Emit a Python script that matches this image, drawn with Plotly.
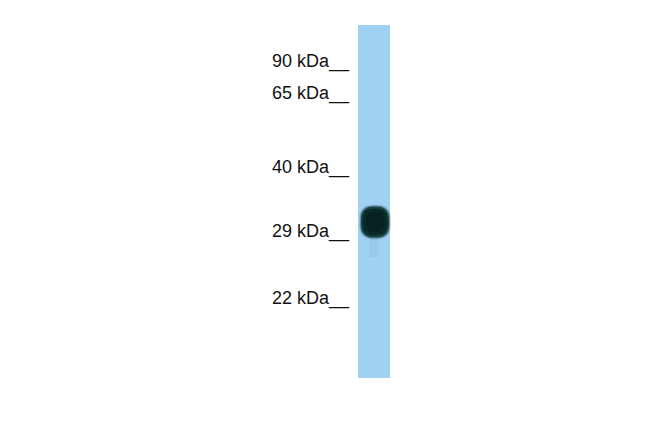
import plotly.graph_objects as go

# Data read from the blot
marker_kda = [90, 65, 40, 29, 22]
marker_migration = [61, 93, 167, 231, 298]   # migration distance of each marker
marker_labels = [f"{k} kDa__" for k in marker_kda]

lane_names = ["Lane 1"]
lane_start = [25]
lane_end = [378]
band_migration = [222]     # observed band (~30 kDa)
band_height = [30]

W, H = 650, 433
OFF = 8  # page body margin
lane_x = 374
lane_w = 32

fig = go.Figure()

# lane as a bar
fig.add_trace(go.Bar(
    x=[lane_x], y=[lane_end[0] - lane_start[0]], base=[lane_start[0]],
    width=[lane_w], marker=dict(color="#a0d1f3", line=dict(width=0)),
    hoverinfo="skip", showlegend=False, name=lane_names[0]))

# faint smear below the band
fig.add_trace(go.Bar(
    x=[lane_x], y=[24], base=[band_migration[0] + band_height[0] / 2 - 4],
    width=[10], marker=dict(color="rgba(130,175,210,0.25)", line=dict(width=0)),
    hoverinfo="skip", showlegend=False))

# band: soft layered blob
c = band_migration[0]
for w, h, col in [(32, 35, "rgba(80,125,150,0.25)"),
                  (30, 33, "rgba(40,85,95,0.45)"),
                  (28, 31, "rgba(15,55,55,0.85)"),
                  (25, 27, "rgba(10,42,40,1)"),
                  (18, 20, "rgba(6,34,32,1)")]:
    x0, x1 = lane_x + 1 - w / 2, lane_x + 1 + w / 2
    y0, y1 = c - h / 2, c + h / 2
    r = min(w, h) * 0.45
    path = (f"M {x0+r},{y0} L {x1-r},{y0} Q {x1},{y0} {x1},{y0+r} "
            f"L {x1},{y1-r} Q {x1},{y1} {x1-r},{y1} L {x0+r},{y1} "
            f"Q {x0},{y1} {x0},{y1-r} L {x0},{y0+r} Q {x0},{y0} {x0+r},{y0} Z")
    fig.add_shape(type="path", path=path, xref="x", yref="y",
                  fillcolor=col, line=dict(width=0), layer="above")

# marker labels
for lab, m in zip(marker_labels, marker_migration):
    fig.add_annotation(x=352, y=m, text=lab, showarrow=False,
                       xanchor="right", yanchor="middle", xref="x", yref="y",
                       font=dict(family="Liberation Sans, Arial", size=18, color="#111111"))

fig.update_layout(
    width=W - OFF, height=H - OFF, margin=dict(l=0, r=0, t=0, b=0),
    paper_bgcolor="white", plot_bgcolor="white", bargap=0,
    xaxis=dict(range=[OFF, W], visible=False, fixedrange=True),
    yaxis=dict(range=[H, OFF], visible=False, fixedrange=True),
    showlegend=False,
)

fig.write_html("out.html")
